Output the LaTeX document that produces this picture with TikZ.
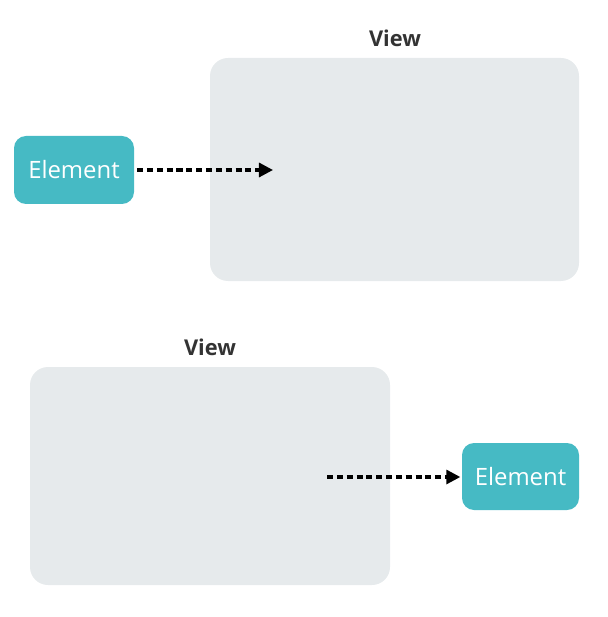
\documentclass[tikz,border=0pt]{standalone}
\usepackage{fontspec}
\setmainfont{Open Sans}
\usetikzlibrary{arrows.meta}
\definecolor{elemteal}{RGB}{70,186,196}
\definecolor{viewgrey}{RGB}{230,234,236}
\tikzset{
	elem/.style={fill=elemteal, rounded corners=0.3cm, text=white, font=\fontsize{17}{20}\selectfont, inner sep=0pt},
	viewbox/.style={fill=viewgrey, rounded corners=0.45cm, inner sep=0pt},
	viewlabel/.style={font=\fontsize{15.5}{18}\selectfont\bfseries, text=black!80},
	flow/.style={line width=2.2pt, dashed, dash pattern=on 4.3pt off 2.7pt, -{Triangle[length=10pt,width=10pt]}}
}
\begin{document}
\begin{tikzpicture}
			\useasboundingbox (0,0) rectangle (15.175,-15.425);
			% top: element goes into the view
			\node[viewbox, minimum width=9.225cm, minimum height=5.575cm] (topview) at (9.8625,-4.2375) {};
			\node[viewlabel] (toplabel) at (9.875,-0.95) {View};
			\node[elem, minimum width=3cm, minimum height=1.7cm] (topelem) at (1.85,-4.25) {Element};
			\coordinate (topend) at (6.825,-4.25);
			\draw[flow] ([xshift=2pt]topelem.east) -- (topend);
			% bottom: element comes out of the view
			\node[viewbox, minimum width=9cm, minimum height=5.45cm] (botview) at (5.25,-11.9) {};
			\node[viewlabel] (botlabel) at (5.25,-8.675) {View};
			\node[elem, minimum width=2.925cm, minimum height=1.675cm] (botelem) at (13.0125,-11.9125) {Element};
			\coordinate (botstart) at (8.175,-11.925);
			\draw[flow] (botstart) -- ([xshift=-1pt]botelem.west |- botstart);
		\end{tikzpicture}
\end{document}
